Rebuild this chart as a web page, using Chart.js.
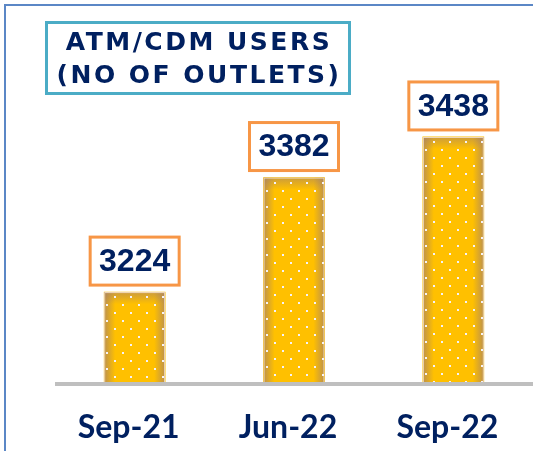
<!DOCTYPE html>
<html>
<head>
<meta charset="utf-8">
<script src="https://cdn.jsdelivr.net/npm/chart.js@4.4.0/dist/chart.umd.min.js"></script>
<style>
  body { margin: 0; background: #fff; }
  #wrap { position: relative; width: 533px; height: 451px; overflow: hidden; }
  #frame { position: absolute; left: 4px; top: 4px; width: 700px; height: 700px;
           border-top: 2px solid #5b87c6; border-left: 2px solid #5b87c6; }
  #title { position: absolute; left: 45px; top: 21px; width: 298px; height: 68px;
           border: 3px solid #4bacc6; color: #002060; font: bold 25px "DejaVu Sans", sans-serif;
           letter-spacing: 2.5px; text-align: center; line-height: 33px;
           padding-left: 2px; box-sizing: content-box; }
  #title div:first-child { margin-top: 1px; }
  canvas { position: absolute; left: 0; top: 0; }
</style>
</head>
<body>
<div id="wrap">
  <canvas id="chart" width="533" height="451"></canvas>
  <div id="frame"></div>
  <div id="title"><div>ATM/CDM USERS</div><div>(NO OF OUTLETS)</div></div>
</div>
<script>
// data
const categories = ['Sep-21', 'Jun-22', 'Sep-22'];
const outlets = [3224, 3382, 3438];

const NAVY = '#002060';

// shading, dots, value boxes and the baseline
const barStyle = {
  id: 'barStyle',
  afterDatasetsDraw(chart) {
    const ctx = chart.ctx;
    const area = chart.chartArea;
    const meta = chart.getDatasetMeta(0);

    meta.data.forEach((bar, i) => {
      const left = bar.x - bar.width / 2;
      const right = bar.x + bar.width / 2;
      const top = bar.y;
      const bottom = Math.min(bar.base, area.bottom);
      const w = right - left;
      const h = bottom - top;

      ctx.save();
      ctx.beginPath();
      ctx.rect(left, top, w, h);
      ctx.clip();

      // darker edges left / right
      const g = ctx.createLinearGradient(left, 0, right, 0);
      g.addColorStop(0, 'rgba(160,125,110,0.7)');
      g.addColorStop(0.18, 'rgba(160,125,110,0)');
      g.addColorStop(0.82, 'rgba(160,125,110,0)');
      g.addColorStop(1, 'rgba(160,125,110,0.7)');
      ctx.fillStyle = g;
      ctx.fillRect(left, top, w, h);

      // darker top
      const gt = ctx.createLinearGradient(0, top, 0, top + 12);
      gt.addColorStop(0, 'rgba(160,125,110,0.55)');
      gt.addColorStop(1, 'rgba(160,125,110,0)');
      ctx.fillStyle = gt;
      ctx.fillRect(left, top, w, 12);

      // light rim
      ctx.strokeStyle = 'rgba(245,225,205,0.9)';
      ctx.lineWidth = 1;
      ctx.strokeRect(left + 0.5, top + 0.5, w - 1, h);

      // dot pattern
      ctx.fillStyle = '#f4f2fa';
      let row = 0;
      for (let y = top + 4; y < bottom - 1; y += 8, row++) {
        const off = row % 2 ? 0 : 8;
        for (let x = left + 2 + off; x < right - 1; x += 16) {
          ctx.fillRect(Math.round(x), Math.round(y), 2, 2);
        }
      }
      ctx.restore();

      // value box
      const bw = 89, bh = 48;
      const bx = bar.x - bw / 2;
      const by = top - 7 - bh;
      ctx.save();
      ctx.fillStyle = '#fff';
      ctx.fillRect(bx, by, bw, bh);
      ctx.strokeStyle = '#f79646';
      ctx.lineWidth = 3;
      ctx.strokeRect(bx, by, bw, bh);
      ctx.fillStyle = NAVY;
      ctx.font = 'bold 32px "Liberation Sans", Arial, sans-serif';
      ctx.textAlign = 'center';
      ctx.textBaseline = 'middle';
      ctx.fillText(String(outlets[i]), bar.x, by + bh / 2 + 1);
      ctx.restore();
    });

    // baseline
    ctx.save();
    ctx.fillStyle = '#bfbfbf';
    ctx.fillRect(area.left, area.bottom, chart.width - area.left, 4);
    ctx.restore();
  }
};

new Chart(document.getElementById('chart'), {
  type: 'bar',
  data: {
    labels: categories,
    datasets: [{
      data: outlets,
      backgroundColor: '#ffc000',
      borderWidth: 0,
      barThickness: 61
    }]
  },
  options: {
    responsive: false,
    animation: false,
    layout: { padding: { left: 55, right: 0, top: 92, bottom: 0 } },
    plugins: {
      legend: { display: false },
      tooltip: { enabled: false }
    },
    scales: {
      y: { display: false, min: 3100, max: 3500 },
      x: {
        grid: { display: false, drawTicks: false },
        border: { display: false },
        ticks: {
          color: NAVY,
          font: { family: 'Lato', size: 32, weight: 'bold' },
          padding: 26,
          labelOffset: -6
        },
        afterFit(scale) { scale.height = 69; }
      }
    }
  },
  plugins: [barStyle]
});
</script>
</body>
</html>
